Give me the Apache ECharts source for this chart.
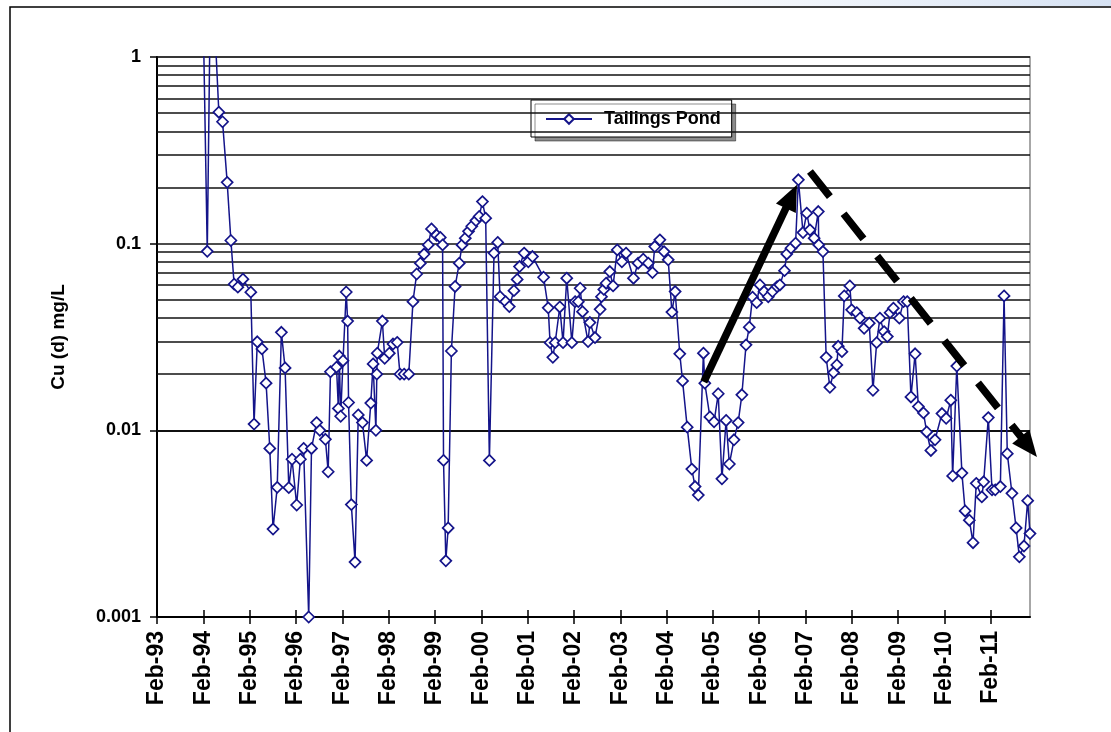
<!DOCTYPE html>
<html>
<head>
<meta charset="utf-8">
<title>Cu (d) – Tailings Pond</title>
<script src="https://cdn.jsdelivr.net/npm/echarts@6/dist/echarts.min.js"></script>
<style>
  html, body { margin: 0; padding: 0; background: #fff; }
  #chart { width: 1111px; height: 732px; }
</style>
</head>
<body>
<div id="chart"></div>
<script>
// Sampling dates as decimal years
const sampleDates = [
  1994.07, 1994.17, 1994.25, 1994.42, 1994.50, 1994.60, 1994.68, 1994.75, 1994.83, 1994.94,
  1995.11, 1995.18, 1995.25, 1995.35, 1995.44, 1995.52, 1995.59, 1995.68, 1995.77, 1995.85,
  1995.93, 1996.00, 1996.10, 1996.18, 1996.25, 1996.36, 1996.42, 1996.53, 1996.60, 1996.72,
  1996.78, 1996.83, 1996.96, 1997.00, 1997.02, 1997.05, 1997.10, 1997.17, 1997.20, 1997.22,
  1997.28, 1997.36, 1997.43, 1997.52, 1997.61, 1997.70, 1997.75, 1997.81, 1997.83, 1997.84,
  1997.95, 1998.00, 1998.10, 1998.18, 1998.27, 1998.33, 1998.42, 1998.52, 1998.61, 1998.69,
  1998.77, 1998.85, 1998.94, 1999.01, 1999.12, 1999.20, 1999.25, 1999.27, 1999.32, 1999.37,
  1999.44, 1999.52, 1999.61, 1999.67, 1999.74, 1999.81, 1999.88, 1999.97, 2000.04, 2000.11,
  2000.18, 2000.26, 2000.36, 2000.44, 2000.49, 2000.61, 2000.69, 2000.79, 2000.86, 2000.91,
  2001.01, 2001.10, 2001.19, 2001.43, 2001.53, 2001.57, 2001.63, 2001.68, 2001.78, 2001.85,
  2001.93, 2002.04, 2002.11, 2002.18, 2002.22, 2002.27, 2002.39, 2002.43, 2002.54, 2002.65,
  2002.68, 2002.73, 2002.78, 2002.86, 2002.93, 2003.02, 2003.12, 2003.21, 2003.37, 2003.47,
  2003.58, 2003.69, 2003.78, 2003.83, 2003.94, 2004.03, 2004.12, 2004.20, 2004.27, 2004.37,
  2004.43, 2004.53, 2004.63, 2004.70, 2004.77, 2004.88, 2004.91, 2005.02, 2005.11, 2005.20,
  2005.28, 2005.37, 2005.44, 2005.54, 2005.63, 2005.71, 2005.80, 2005.87, 2005.94, 2006.03,
  2006.10, 2006.19, 2006.28, 2006.37, 2006.47, 2006.53, 2006.63, 2006.68, 2006.77, 2006.87,
  2006.93, 2007.03, 2007.11, 2007.18, 2007.27, 2007.36, 2007.37, 2007.46, 2007.53, 2007.61,
  2007.69, 2007.76, 2007.79, 2007.87, 2007.92, 2008.04, 2008.08, 2008.19, 2008.26, 2008.35,
  2008.46, 2008.54, 2008.62, 2008.69, 2008.78, 2008.85, 2008.91, 2008.98, 2009.11, 2009.20,
  2009.28, 2009.36, 2009.45, 2009.52, 2009.63, 2009.70, 2009.79, 2009.88, 2010.03, 2010.12,
  2010.22, 2010.26, 2010.35, 2010.46, 2010.53, 2010.62, 2010.70, 2010.77, 2010.89, 2010.93,
  2011.03, 2011.11, 2011.18, 2011.29, 2011.37, 2011.44, 2011.54, 2011.63, 2011.70, 2011.80,
  2011.88, 2011.93
];

// Dissolved copper, mg/L
const tailingsPondCu = [
  2.5, 0.091, 4.0, 0.506, 0.45, 0.213, 0.104, 0.0607, 0.0585, 0.0645,
  0.055, 0.0108, 0.0298, 0.0273, 0.0179, 0.0080, 0.00296, 0.00495, 0.0335, 0.0216,
  0.00493, 0.0070, 0.00398, 0.0070, 0.0080, 0.001, 0.0080, 0.0110, 0.0100, 0.00895,
  0.0060, 0.0206, 0.0218, 0.0131, 0.0250, 0.0119, 0.0236, 0.0551, 0.0385, 0.0141,
  0.0040, 0.00197, 0.0121, 0.0110, 0.0069, 0.0140, 0.0227, 0.0100, 0.0200, 0.0259,
  0.0385, 0.0243, 0.0259, 0.0290, 0.0296, 0.0200, 0.0200, 0.0200, 0.0489, 0.0688,
  0.0786, 0.088, 0.0985, 0.120, 0.111, 0.108, 0.0985, 0.0069, 0.0020, 0.0030,
  0.0266, 0.0590, 0.0786, 0.0984, 0.107, 0.1165, 0.124, 0.133, 0.140, 0.168,
  0.137, 0.0069, 0.089, 0.1015, 0.052, 0.0489, 0.0460, 0.0560, 0.0643, 0.0754,
  0.0890, 0.080, 0.0853, 0.0661, 0.0453, 0.0295, 0.0246, 0.0295, 0.0458, 0.0295,
  0.0653, 0.0295, 0.0489, 0.0489, 0.0577, 0.0432, 0.0299, 0.0378, 0.0314, 0.0445,
  0.052, 0.0569, 0.0614, 0.0709, 0.0594, 0.0926, 0.080, 0.0889, 0.0653, 0.0786,
  0.0826, 0.0786, 0.070, 0.0965, 0.1048, 0.0907, 0.0819, 0.0430, 0.0554, 0.0257,
  0.0184, 0.0104, 0.0062, 0.0050, 0.0045, 0.0259, 0.0179, 0.0118, 0.0111, 0.0157,
  0.0055, 0.0113, 0.0066, 0.0089, 0.0110, 0.0155, 0.0287, 0.0357, 0.0517, 0.0483,
  0.0601, 0.0554, 0.052, 0.0554, 0.0589, 0.0601, 0.0717, 0.0881, 0.0946, 0.1006,
  0.2198, 0.1147, 0.1457, 0.1186, 0.107, 0.1486, 0.0985, 0.0907, 0.0246, 0.0170,
  0.0204, 0.0224, 0.0282, 0.0264, 0.0525, 0.0594, 0.0442, 0.0427, 0.0399, 0.0352,
  0.0375, 0.0164, 0.0295, 0.0399, 0.0338, 0.0318, 0.0427, 0.0451, 0.0399, 0.0489,
  0.0489, 0.0151, 0.0257, 0.0134, 0.0124, 0.0098, 0.0078, 0.0089, 0.0123, 0.0116,
  0.0145, 0.0057, 0.0221, 0.0059, 0.0037, 0.0033, 0.0025, 0.0052, 0.0044, 0.0053,
  0.0117, 0.0048, 0.0048, 0.0050, 0.0525, 0.0075, 0.0046, 0.0030, 0.0021, 0.0024,
  0.0042, 0.0028
];

// X axis: one tick every February
const AXIS_START = 1993.085;   // 1 Feb 1993
const xTickLabels = [
  'Feb-93', 'Feb-94', 'Feb-95', 'Feb-96', 'Feb-97', 'Feb-98', 'Feb-99', 'Feb-00', 'Feb-01', 'Feb-02',
  'Feb-03', 'Feb-04', 'Feb-05', 'Feb-06', 'Feb-07', 'Feb-08', 'Feb-09', 'Feb-10', 'Feb-11'
];

// Y axis (log): labelled decades and the 1..9 gridlines within each decade
const yTickLabels = ['0.001', '0.01', '0.1', '1'];
const gridMultipliers = [1, 2, 3, 4, 5, 6, 7, 8, 9];
const gridDecades = [0.001, 0.01, 0.1];

// Trend annotations, [decimal year, mg/L] for tail and head
const riseArrow = [[2004.89, 0.0182], [2006.90, 0.207]];
const fallArrow = [[2007.18, 0.2435], [2012.08, 0.0072]];

const FONT = "'Liberation Sans', Arial, sans-serif";
const NAVY = '#14148a';

const gridValues = [];
gridDecades.forEach(d => gridMultipliers.forEach(m => {
  const v = +(d * m).toPrecision(3);
  if (v > 0.001) gridValues.push(v);
}));
gridValues.push(1);

const tickPositions = xTickLabels.map((_, i) => i);
const xMax = sampleDates[sampleDates.length - 1] - AXIS_START;
const seriesData = sampleDates.map((d, i) => [d - AXIS_START, tailingsPondCu[i]]);

const chart = echarts.init(document.getElementById('chart'), null, { renderer: 'canvas' });

const baseXAxis = {
  type: 'value',
  min: 0,
  max: xMax,
  splitLine: { show: false },
  axisPointer: { show: false }
};

chart.setOption({
  animation: false,
  backgroundColor: '#fff',
  grid: {
    left: 157, top: 57, right: 81, bottom: 115,
    containLabel: false,
    outerBoundsMode: 'none',
    show: true,
    borderColor: '#8a8a8a',
    borderWidth: 1.5,
    backgroundColor: 'transparent'
  },
  legend: {
    data: ['Tailings Pond'],
    left: 531, top: 100,
    orient: 'horizontal',
    backgroundColor: '#fff',
    borderColor: '#000',
    borderWidth: 1,
    padding: [10, 11, 9, 14],
    shadowColor: 'rgba(0,0,0,0.45)',
    shadowOffsetX: 4,
    shadowOffsetY: 4,
    shadowBlur: 0,
    itemWidth: 46,
    itemHeight: 12,
    itemGap: 10,
    textStyle: { fontFamily: FONT, fontWeight: 'bold', fontSize: 18, color: '#000', padding: [0, 0, 0, 7] }
  },
  xAxis: [
    Object.assign({}, baseXAxis, {
      position: 'bottom',
      axisLine: { show: true, onZero: false, lineStyle: { color: '#000', width: 2 } },
      axisTick: { show: true, inside: false, length: 7, customValues: tickPositions,
                  lineStyle: { color: '#000', width: 1.5 } },
      axisLabel: {
        show: true,
        customValues: tickPositions,
        rotate: 90,
        margin: 14,
        fontFamily: FONT, fontWeight: 'bold', fontSize: 23, color: '#000',
        formatter: v => xTickLabels[Math.round(v)] || ''
      }
    }),
    Object.assign({}, baseXAxis, {
      position: 'bottom',
      axisLine: { show: false },
      axisTick: { show: true, inside: true, length: 7, customValues: tickPositions,
                  lineStyle: { color: '#000', width: 1.5 } },
      axisLabel: { show: false }
    })
  ],
  yAxis: {
    type: 'log',
    logBase: 10,
    min: 0.001,
    max: 1,
    name: 'Cu (d) mg/L',
    nameLocation: 'middle',
    nameRotate: 90,
    nameGap: 89,
    nameTextStyle: { fontFamily: FONT, fontWeight: 'bold', fontSize: 19, color: '#000' },
    axisLine: { show: true, onZero: false, lineStyle: { color: '#000', width: 2 } },
    axisTick: { show: true, inside: false, length: 7, lineStyle: { color: '#000', width: 1.5 } },
    axisLabel: {
      margin: 16,
      fontFamily: FONT, fontWeight: 'bold', fontSize: 18, color: '#000',
      formatter: v => {
        const s = String(+(+v).toPrecision(3));
        return yTickLabels.indexOf(s) >= 0 ? s : '';
      }
    },
    splitLine: { show: false },
    minorTick: { show: false },
    minorSplitLine: { show: false },
    axisPointer: { show: false }
  },
  series: [
    {
      // horizontal gridlines at every 1..9 step of each decade
      name: 'grid',
      type: 'line',
      data: [],
      silent: true,
      z: 1,
      markLine: {
        silent: true,
        symbol: ['none', 'none'],
        label: { show: false },
        emphasis: { disabled: true },
        lineStyle: { color: '#111', width: 1.7, type: 'solid' },
        data: gridValues.map(v => ({ yAxis: v }))
      }
    },
    {
      name: 'Tailings Pond',
      type: 'line',
      data: seriesData,
      clip: true,
      z: 5,
      symbol: 'diamond',
      symbolSize: 11,
      showSymbol: true,
      showAllSymbol: true,
      lineStyle: { color: NAVY, width: 1.5 },
      itemStyle: { color: '#fff', borderColor: NAVY, borderWidth: 1.7 },
      emphasis: { disabled: true }
    }
  ]
});

// Arrow annotations placed through the axes' own scales
function arrowElements(endpoints, dashed) {
  const p0 = chart.convertToPixel({ xAxisIndex: 0, yAxisIndex: 0 },
                                  [endpoints[0][0] - AXIS_START, endpoints[0][1]]);
  const p1 = chart.convertToPixel({ xAxisIndex: 0, yAxisIndex: 0 },
                                  [endpoints[1][0] - AXIS_START, endpoints[1][1]]);
  const dx = p1[0] - p0[0], dy = p1[1] - p0[1];
  const len = Math.sqrt(dx * dx + dy * dy);
  const ux = dx / len, uy = dy / len;
  const nx = -uy, ny = ux;
  const headLen = 26, headHalf = 11;
  const bx = p1[0] - ux * headLen, by = p1[1] - uy * headLen;
  return [
    {
      type: 'line',
      z: 50,
      silent: true,
      shape: { x1: p0[0], y1: p0[1], x2: bx + ux * 2, y2: by + uy * 2 },
      style: { stroke: '#000', lineWidth: 7.5, lineDash: dashed ? [32, 22] : null, lineCap: 'butt' }
    },
    {
      type: 'polygon',
      z: 50,
      silent: true,
      shape: { points: [[p1[0], p1[1]], [bx + nx * headHalf, by + ny * headHalf], [bx - nx * headHalf, by - ny * headHalf]] },
      style: { fill: '#000' }
    }
  ];
}

chart.setOption({
  graphic: [
    {
      type: 'rect',
      silent: true,
      z: 0,
      shape: { x: 600, y: 0, width: 511, height: 6 },
      style: {
        fill: new echarts.graphic.LinearGradient(0, 0, 1, 0, [
          { offset: 0, color: 'rgba(225,234,246,0)' },
          { offset: 1, color: 'rgba(214,226,243,1)' }
        ])
      }
    },
    {
      type: 'rect',
      silent: true,
      z: 0,
      shape: { x: 10, y: 7, width: 1200, height: 800 },
      style: { fill: 'none', stroke: '#000', lineWidth: 1.5 }
    }
  ].concat(arrowElements(riseArrow, false), arrowElements(fallArrow, true))
});
</script>
</body>
</html>
